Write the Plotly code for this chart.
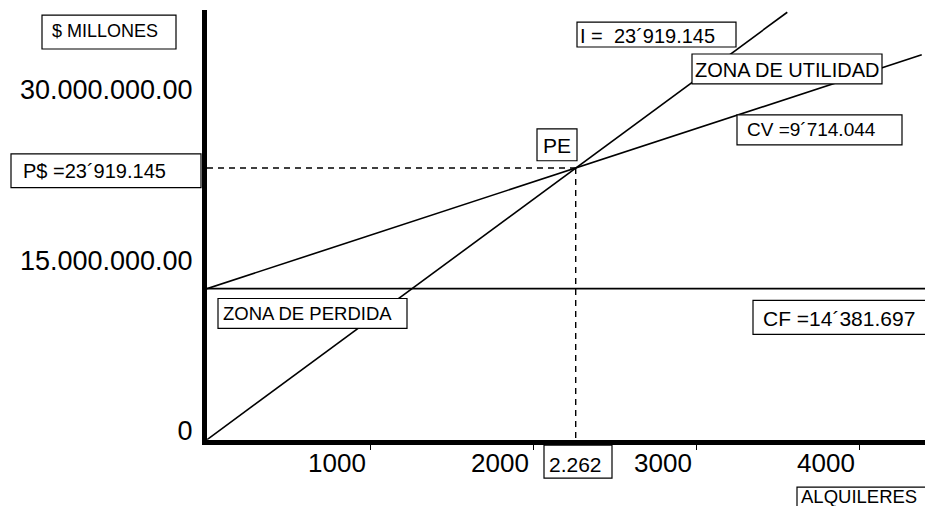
import plotly.graph_objects as go

# The page body adds an 8px margin; the figure is kept a little smaller than the window
OFF = 8
W, H = 935 - 2 * OFF - 2, 516 - 2 * OFF - 2
S = 0.99   # vertical fit factor of the captured page

# ---------------- datos ----------------
alquileres_pe = 2262            # punto de equilibrio (alquileres)
pesos_pe = 23919145             # punto de equilibrio ($)
costo_fijo_trazo = 13300000     # nivel al que está trazada la recta CF

ingresos_x = [0, alquileres_pe, 3560]
ingresos_y = [0, pesos_pe, 37640000]

costo_total_x = [0, alquileres_pe, 4385]
costo_total_y = [costo_fijo_trazo, pesos_pe, 33890000]

costo_fijo_x = [0, 4420]
costo_fijo_y = [costo_fijo_trazo, costo_fijo_trazo]

x_ticks = [1000, 2000, 3000, 4000]
x_tick_labels = ["1000", "2000", "3000", "4000"]
y_ticks = [0, 15000000, 30000000]
y_tick_labels = ["0", "15.000.000.00", "30.000.000.00"]

etiquetas = [
    "$ MILLONES",
    "P$ =23´919.145",
    "PE",
    "I =\u00a0\u00a023´919.145",
    "ZONA DE UTILIDAD",
    "CV =9´714.044",
    "ZONA DE PERDIDA",
    "CF =14´381.697",
    "2.262",
    "ALQUILERES",
]

# ---------------- layout (pixel boxes in screen coordinates) ----------------
# (x0, y0, x1, y1, text_x, text_ycenter, font_size)
cajas = [
    (42, 15, 176, 49, 51, 31, 18),
    (11, 154, 201, 188, 22, 171, 20),
    (537, 129, 577, 161, 542, 146, 21),
    (577, 22, 736, 47, 579, 36, 20),
    (692, 54, 882, 84, 694, 70, 20),
    (737, 115, 902, 145, 746, 130, 19),
    (218, 299, 407, 329, 222, 314, 18.5),
    (753, 301, 960, 335, 762, 319, 21),
    (544, 446, 612, 479, 548, 465, 21),
    (797, 488, 927, 540, 800, 497, 18.5),
]

def px(x):
    return (x - OFF) / W

def py(y):
    return 1 - (y / S - OFF) / H

FONT = "Liberation Sans, Arial, sans-serif"
line_style = dict(color="black", width=1.6)
dash_style = dict(color="black", width=1.4, dash="6px,5px")

fig = go.Figure()

fig.add_trace(go.Scatter(x=costo_fijo_x, y=costo_fijo_y, mode="lines",
                         line=line_style, hoverinfo="skip"))
fig.add_trace(go.Scatter(x=costo_total_x, y=costo_total_y, mode="lines",
                         line=line_style, hoverinfo="skip"))
fig.add_trace(go.Scatter(x=ingresos_x, y=ingresos_y, mode="lines",
                         line=line_style, hoverinfo="skip"))
# líneas punteadas del punto de equilibrio
fig.add_trace(go.Scatter(x=[0, alquileres_pe], y=[pesos_pe, pesos_pe], mode="lines",
                         line=dash_style, hoverinfo="skip"))
fig.add_trace(go.Scatter(x=[alquileres_pe, alquileres_pe], y=[pesos_pe, 0], mode="lines",
                         line=dash_style, hoverinfo="skip"))

shapes = []
annotations = []
for (x0, y0, x1, y1, tx, ty, fs), txt in zip(cajas, etiquetas):
    shapes.append(dict(type="rect", xref="paper", yref="paper",
                       x0=px(x0), x1=px(x1), y0=py(y0), y1=py(y1),
                       line=dict(color="black", width=1.2),
                       fillcolor="white", layer="above"))
    annotations.append(dict(xref="paper", yref="paper", x=px(tx), y=py(ty),
                            xanchor="left", yanchor="middle", showarrow=False,
                            text=txt, borderpad=0,
                            font=dict(family=FONT, size=fs, color="black")))

x_left_px = 207      # screen x of alquileres = 0
y_bottom_px = 440.5  # screen y of $ = 0
y_top_px = 10
x_per_px = 1000 / 163.0

fig.update_layout(
    width=W, height=H,
    margin=dict(l=0, r=0, t=0, b=0),
    paper_bgcolor="white", plot_bgcolor="white",
    showlegend=False,
    shapes=shapes, annotations=annotations,
    font=dict(family=FONT, color="black"),
    xaxis=dict(range=[0, (W + OFF - x_left_px) * x_per_px],
               domain=[px(x_left_px), 1],
               showline=True, linewidth=5, linecolor="black",
               showgrid=False, zeroline=False,
               ticks="outside", ticklen=5, tickwidth=1, tickcolor="black",
               tickvals=x_ticks, ticktext=x_tick_labels,
               ticklabelshift=-33, ticklabelstandoff=-9,
               tickfont=dict(family=FONT, size=26, color="black")),
    yaxis=dict(range=[0, 37830000], domain=[py(y_bottom_px), py(y_top_px)],
               showline=True, linewidth=5, linecolor="black",
               showgrid=False, zeroline=False, ticks="",
               tickvals=y_ticks, ticktext=y_tick_labels,
               ticklabelshift=-9, ticklabelstandoff=4,
               tickfont=dict(family=FONT, size=27, color="black")),
)

fig.write_html("out.html")
